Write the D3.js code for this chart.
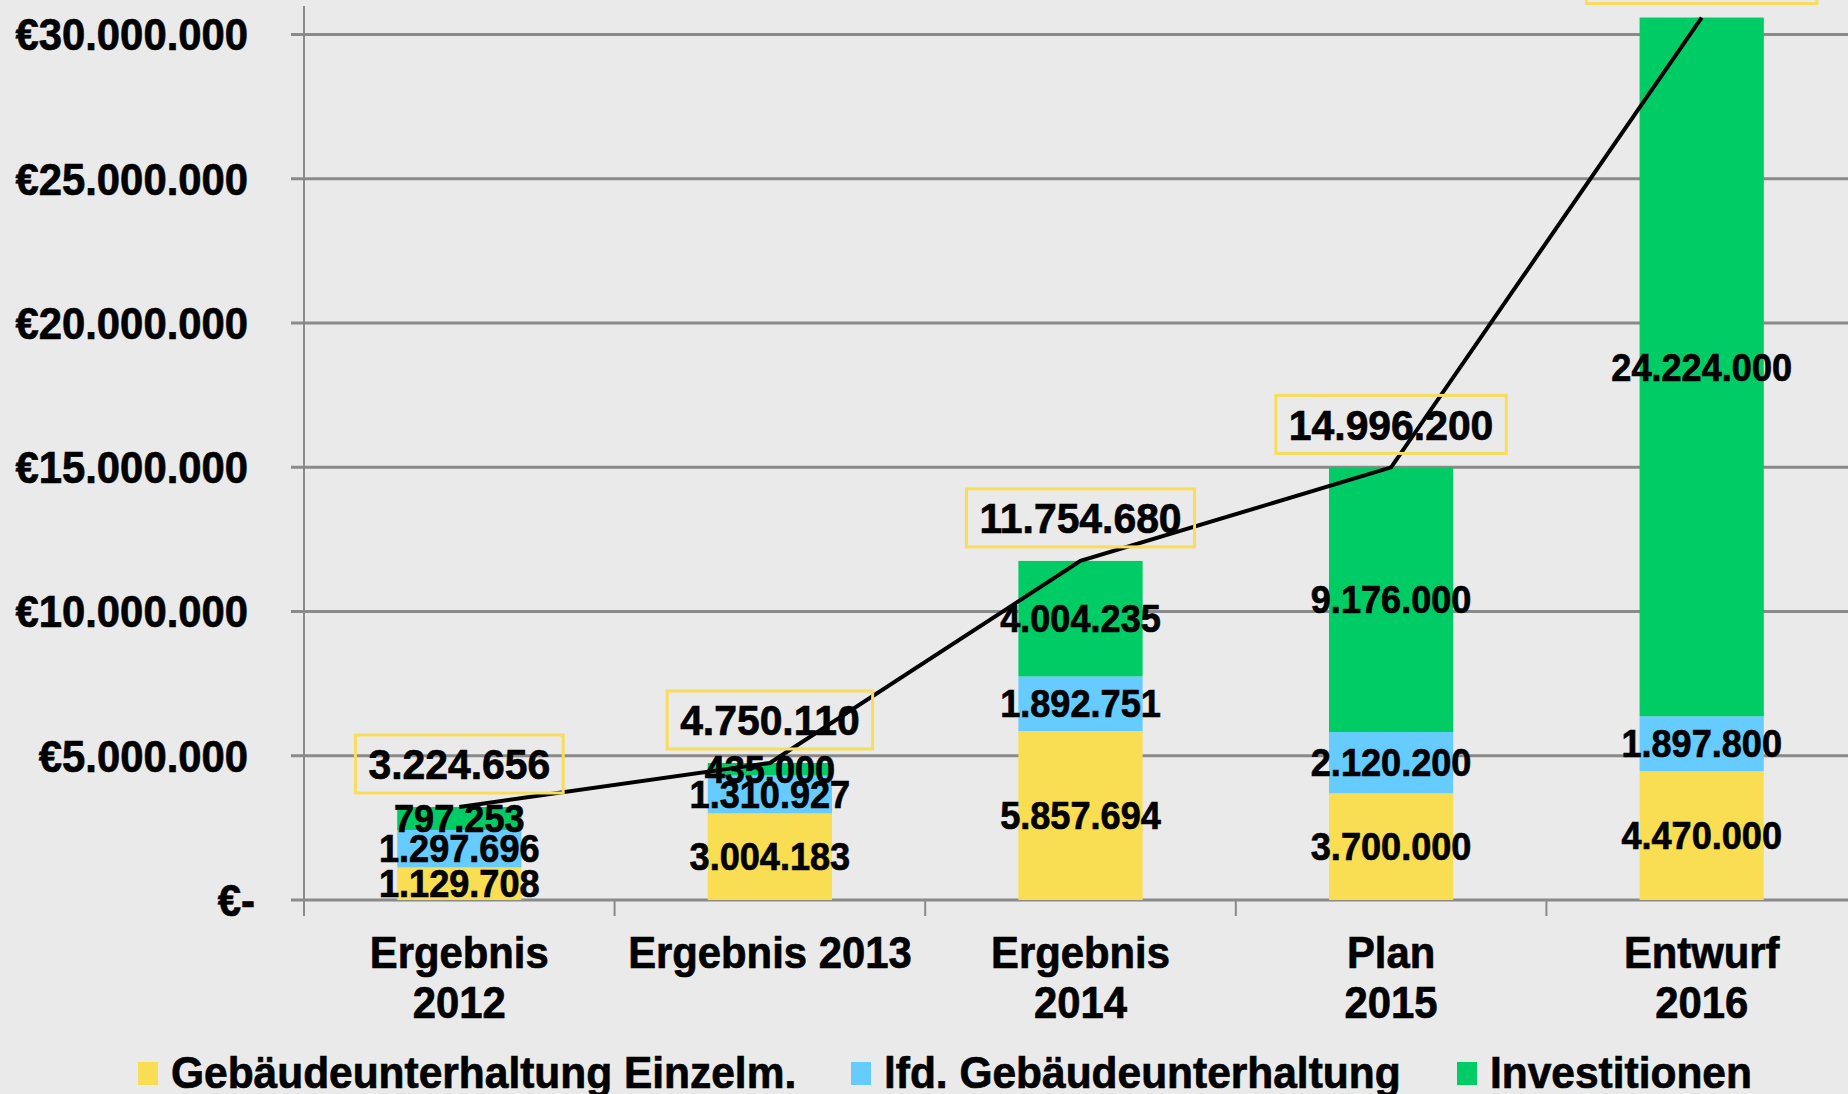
<!DOCTYPE html>
<html>
<head>
<meta charset="utf-8">
<script src="https://cdn.jsdelivr.net/npm/d3@7"></script>
<style>
  html, body { margin: 0; padding: 0; background: #EAEAEA; overflow: hidden; }
  svg { display: block; }
  text { font-family: "Liberation Sans", Arial, sans-serif; font-weight: bold; fill: #000; stroke: #000; stroke-width: 0.7px; }
</style>
</head>
<body>
<script>
// ---- data ----
const categories = ["Ergebnis 2012", "Ergebnis 2013", "Ergebnis 2014", "Plan 2015", "Entwurf 2016"];
const categoryLines = [["Ergebnis", "2012"], ["Ergebnis 2013"], ["Ergebnis", "2014"], ["Plan", "2015"], ["Entwurf", "2016"]];
const seriesNames = ["Gebäudeunterhaltung Einzelm.", "lfd. Gebäudeunterhaltung", "Investitionen"];
const einzelm = [1129708, 3004183, 5857694, 3700000, 4470000];
const laufend = [1297696, 1310927, 1892751, 2120200, 1897800];
const investitionen = [797253, 435000, 4004235, 9176000, 24224000];
const totals = [3224656, 4750110, 11754680, 14996200, 30591800];
const yTicks = [0, 5000000, 10000000, 15000000, 20000000, 25000000, 30000000];
const colors = ["#F9DD52", "#66CCFF", "#00CC66"];

const W = 1848, H = 1094;
const fmt = v => d3.format(",")(v).replace(/,/g, ".");
const axisFmt = v => v === 0 ? "€-" : "€" + fmt(v);

const svg = d3.select("body").append("svg").attr("width", W).attr("height", H);
svg.append("rect").attr("width", W).attr("height", H).attr("fill", "#EAEAEA");

const x = d3.scaleBand().domain(categories).range([304, 304 + 5 * 310.6]).paddingInner(0.6).paddingOuter(0.3);
const y = d3.scaleLinear().domain([0, 30000000]).range([900, 34.6]);
const step = x.step();

// gridlines
svg.append("g").selectAll("line").data(yTicks).join("line")
  .attr("x1", 291).attr("x2", W)
  .attr("y1", d => y(d)).attr("y2", d => y(d))
  .attr("stroke", "#8A8A8A").attr("stroke-width", 3);

// y axis line
svg.append("line").attr("x1", 304).attr("x2", 304).attr("y1", 6).attr("y2", 916)
  .attr("stroke", "#8A8A8A").attr("stroke-width", 2);
// category ticks
svg.append("g").selectAll("line").data(d3.range(6)).join("line")
  .attr("x1", i => 304 + i * step).attr("x2", i => 304 + i * step)
  .attr("y1", 900).attr("y2", 916)
  .attr("stroke", "#8A8A8A").attr("stroke-width", 2);

// y axis labels
const allTexts = [];
svg.append("g").selectAll("text").data(yTicks).join("text")
  .attr("x", d => d === 0 ? 255 : 248).attr("y", d => y(d)).attr("dy", "0.36em")
  .attr("text-anchor", "end").style("font-size", "44px")
  .text(axisFmt)
  .each(function () { allTexts.push(this); });

// stacked bars
const rows = categories.map((c, i) => ({ cat: c, v0: einzelm[i], v1: laufend[i], v2: investitionen[i] }));
const stack = d3.stack().keys(["v0", "v1", "v2"])(rows);
const barG = svg.append("g");
stack.forEach((layer, li) => {
  barG.selectAll(null).data(layer).join("rect")
    .attr("x", d => x(d.data.cat)).attr("width", x.bandwidth())
    .attr("y", d => y(d[1])).attr("height", d => y(d[0]) - y(d[1]))
    .attr("fill", colors[li]);
});

// segment labels
stack.forEach((layer, li) => {
  svg.append("g").selectAll("text").data(layer).join("text")
    .attr("x", d => x(d.data.cat) + x.bandwidth() / 2)
    .attr("y", d => y((d[0] + d[1]) / 2)).attr("dy", "0.36em")
    .attr("text-anchor", "middle").style("font-size", "38px")
    .text(d => fmt(d[1] - d[0]))
    .each(function () { allTexts.push(this); });
});

// total line
const line = d3.line().x((d, i) => x(categories[i]) + x.bandwidth() / 2).y(d => y(d));
svg.append("path").datum(totals).attr("d", line)
  .attr("fill", "none").attr("stroke", "#000").attr("stroke-width", 4);

// total labels with yellow boxes
const totG = svg.append("g");
totals.forEach((t, i) => {
  const cx = x(categories[i]) + x.bandwidth() / 2;
  const bottom = y(t) - 14;
  const cy = bottom - 29;
  const rect = totG.append("rect").attr("fill", "none").attr("stroke", "#F8DC5C").attr("stroke-width", 3);
  const txt = totG.append("text").attr("x", cx).attr("y", cy).attr("dy", "0.36em")
    .attr("text-anchor", "middle").style("font-size", "43px").text(fmt(t));
  allTexts.push(txt.node());
  txt.node().__box = { rect, cx, cy };
});

// category labels
categoryLines.forEach((lines, i) => {
  const cx = x(categories[i]) + x.bandwidth() / 2;
  lines.forEach((ln, j) => {
    const t = svg.append("text").attr("x", cx).attr("y", 968 + j * 50)
      .attr("text-anchor", "middle").style("font-size", "44px").text(ln);
    allTexts.push(t.node());
  });
});

// legend
const legX = [138, 851, 1457];
seriesNames.forEach((n, i) => {
  svg.append("rect").attr("x", legX[i]).attr("y", 1062).attr("width", 20).attr("height", 23).attr("fill", colors[i]);
  const t = svg.append("text").attr("x", legX[i] + 33).attr("y", 1088)
    .style("font-size", "44px").text(n);
  t.node().__factor = 0.965;
  allTexts.push(t.node());
});

// slight horizontal condensing of the bold text, as in the reference
allTexts.forEach(node => {
  const len = node.getComputedTextLength();
  const f = node.__factor || 0.95;
  node.setAttribute("textLength", (len * f).toFixed(1));
  node.setAttribute("lengthAdjust", "spacingAndGlyphs");
  if (node.__box) {
    const w = len * f + 26;
    const b = node.__box;
    b.rect.attr("x", b.cx - w / 2).attr("width", w).attr("y", b.cy - 29).attr("height", 58);
  }
});
</script>
</body>
</html>
